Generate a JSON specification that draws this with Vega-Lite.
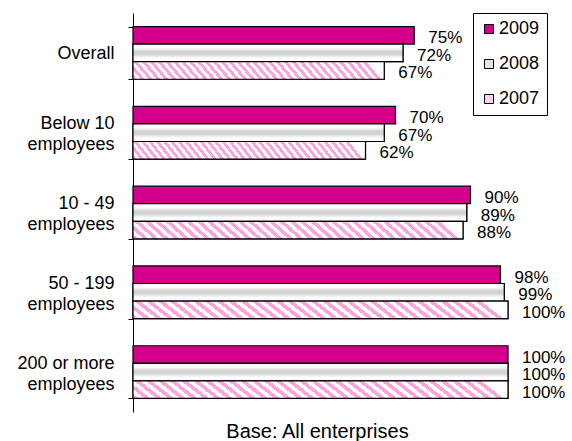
{
  "$schema": "https://vega.github.io/schema/vega-lite/v6.json",
  "width": 375,
  "height": 399,
  "autosize": {"type": "none"},
  "padding": {"left": 133, "top": 13, "right": 64, "bottom": 29},
  "background": "white",
  "config": {"view": {"stroke": null}, "font": "Liberation Sans"},
  "data": {
    "values": [
      {"category": "Overall", "year": "2009", "value": 0.75},
      {"category": "Overall", "year": "2008", "value": 0.72},
      {"category": "Overall", "year": "2007", "value": 0.67},
      {"category": "Below 10 employees", "year": "2009", "value": 0.70},
      {"category": "Below 10 employees", "year": "2008", "value": 0.67},
      {"category": "Below 10 employees", "year": "2007", "value": 0.62},
      {"category": "10 - 49 employees", "year": "2009", "value": 0.90},
      {"category": "10 - 49 employees", "year": "2008", "value": 0.89},
      {"category": "10 - 49 employees", "year": "2007", "value": 0.88},
      {"category": "50 - 199 employees", "year": "2009", "value": 0.98},
      {"category": "50 - 199 employees", "year": "2008", "value": 0.99},
      {"category": "50 - 199 employees", "year": "2007", "value": 1.00},
      {"category": "200 or more employees", "year": "2009", "value": 1.00},
      {"category": "200 or more employees", "year": "2008", "value": 1.00},
      {"category": "200 or more employees", "year": "2007", "value": 1.00}
    ]
  },
  "encoding": {
    "y": {
      "field": "category", "type": "nominal", "sort": null,
      "scale": {"paddingInner": 0.34, "paddingOuter": 0.17},
      "axis": {
        "title": null,
        "domainColor": "black", "domainWidth": 1,
        "tickColor": "black", "tickSize": 5, "tickBand": "extent",
        "labelFontSize": 18, "labelFont": "Liberation Sans", "labelColor": "black",
        "labelLineHeight": 21, "labelPadding": 14, "labelAlign": "right", "labelBaseline": "middle",
        "labelOffset": {"condition": {"test": "datum.label == 'Overall'", "value": 1}, "value": -9},
        "labelExpr": "indexof(datum.label, ' employees') > 0 ? [substring(datum.label, 0, indexof(datum.label, ' employees')), 'employees'] : datum.label"
      }
    },
    "yOffset": {"field": "year", "type": "nominal", "scale": {"domain": ["2009", "2008", "2007"], "paddingInner": 0, "paddingOuter": 0}},
    "x": {
      "field": "value", "type": "quantitative",
      "scale": {"domain": [0, 1], "nice": false},
      "axis": {
        "labels": false, "ticks": false, "domain": false, "grid": false,
        "title": "Base: All enterprises", "titleFontSize": 20, "titleFontWeight": "normal",
        "titleFont": "Liberation Sans", "titleColor": "black",
        "titleX": 184, "titleY": 25, "titleBaseline": "alphabetic", "titleAlign": "center", "titleAnchor": "start"
      }
    }
  },
  "layer": [
    {
      "mark": {"type": "bar", "stroke": "black", "strokeWidth": 1.2, "opacity": 1},
      "encoding": {
        "color": {
          "field": "year", "type": "nominal",
          "scale": {"domain": ["2009", "2008", "2007"], "range": ["#d4008c", "#e4e4e4", "#fcd3ee"]},
          "legend": {
            "orient": "none", "legendX": 340, "legendY": 0, "title": null,
            "strokeColor": "black", "fillColor": "white", "padding": 7, "rowPadding": 17,
            "symbolType": "square", "symbolSize": 81, "symbolStrokeColor": "black", "symbolStrokeWidth": 1, "symbolOpacity": 1,
            "labelFontSize": 18, "labelFont": "Liberation Sans", "labelOffset": 1, "labelColor": "black"
          }
        }
      }
    },
    {
      "transform": [{"filter": "datum.year == '2008'"}],
      "mark": {
        "type": "bar", "stroke": "black", "strokeWidth": 1.2,
        "fill": {
          "gradient": "linear", "x1": 0, "y1": 0, "x2": 0, "y2": 1,
          "stops": [
            {"offset": 0, "color": "#ffffff"},
            {"offset": 0.2, "color": "#ffffff"},
            {"offset": 0.42, "color": "#d4d4d4"},
            {"offset": 0.58, "color": "#d4d4d4"},
            {"offset": 0.8, "color": "#ffffff"},
            {"offset": 1, "color": "#ffffff"}
          ]
        }
      }
    },
    {
      "transform": [{"filter": "datum.year == '2007'"}],
      "mark": {
        "type": "bar", "stroke": "black", "strokeWidth": 1.2,
        "fill": {
          "gradient": "linear", "x1": 0, "y1": 1, "x2": 1, "y2": 0.94,
          "stops": [
            {"offset": 0, "color": "#ffa3dd"}, {"offset": 0.015625, "color": "#ffa3dd"}, {"offset": 0.015625, "color": "#ffffff"}, {"offset": 0.03125, "color": "#ffffff"},
            {"offset": 0.03125, "color": "#ffa3dd"}, {"offset": 0.046875, "color": "#ffa3dd"}, {"offset": 0.046875, "color": "#ffffff"}, {"offset": 0.0625, "color": "#ffffff"},
            {"offset": 0.0625, "color": "#ffa3dd"}, {"offset": 0.078125, "color": "#ffa3dd"}, {"offset": 0.078125, "color": "#ffffff"}, {"offset": 0.09375, "color": "#ffffff"},
            {"offset": 0.09375, "color": "#ffa3dd"}, {"offset": 0.109375, "color": "#ffa3dd"}, {"offset": 0.109375, "color": "#ffffff"}, {"offset": 0.125, "color": "#ffffff"},
            {"offset": 0.125, "color": "#ffa3dd"}, {"offset": 0.140625, "color": "#ffa3dd"}, {"offset": 0.140625, "color": "#ffffff"}, {"offset": 0.15625, "color": "#ffffff"},
            {"offset": 0.15625, "color": "#ffa3dd"}, {"offset": 0.171875, "color": "#ffa3dd"}, {"offset": 0.171875, "color": "#ffffff"}, {"offset": 0.1875, "color": "#ffffff"},
            {"offset": 0.1875, "color": "#ffa3dd"}, {"offset": 0.203125, "color": "#ffa3dd"}, {"offset": 0.203125, "color": "#ffffff"}, {"offset": 0.21875, "color": "#ffffff"},
            {"offset": 0.21875, "color": "#ffa3dd"}, {"offset": 0.234375, "color": "#ffa3dd"}, {"offset": 0.234375, "color": "#ffffff"}, {"offset": 0.25, "color": "#ffffff"},
            {"offset": 0.25, "color": "#ffa3dd"}, {"offset": 0.265625, "color": "#ffa3dd"}, {"offset": 0.265625, "color": "#ffffff"}, {"offset": 0.28125, "color": "#ffffff"},
            {"offset": 0.28125, "color": "#ffa3dd"}, {"offset": 0.296875, "color": "#ffa3dd"}, {"offset": 0.296875, "color": "#ffffff"}, {"offset": 0.3125, "color": "#ffffff"},
            {"offset": 0.3125, "color": "#ffa3dd"}, {"offset": 0.328125, "color": "#ffa3dd"}, {"offset": 0.328125, "color": "#ffffff"}, {"offset": 0.34375, "color": "#ffffff"},
            {"offset": 0.34375, "color": "#ffa3dd"}, {"offset": 0.359375, "color": "#ffa3dd"}, {"offset": 0.359375, "color": "#ffffff"}, {"offset": 0.375, "color": "#ffffff"},
            {"offset": 0.375, "color": "#ffa3dd"}, {"offset": 0.390625, "color": "#ffa3dd"}, {"offset": 0.390625, "color": "#ffffff"}, {"offset": 0.40625, "color": "#ffffff"},
            {"offset": 0.40625, "color": "#ffa3dd"}, {"offset": 0.421875, "color": "#ffa3dd"}, {"offset": 0.421875, "color": "#ffffff"}, {"offset": 0.4375, "color": "#ffffff"},
            {"offset": 0.4375, "color": "#ffa3dd"}, {"offset": 0.453125, "color": "#ffa3dd"}, {"offset": 0.453125, "color": "#ffffff"}, {"offset": 0.46875, "color": "#ffffff"},
            {"offset": 0.46875, "color": "#ffa3dd"}, {"offset": 0.484375, "color": "#ffa3dd"}, {"offset": 0.484375, "color": "#ffffff"}, {"offset": 0.5, "color": "#ffffff"},
            {"offset": 0.5, "color": "#ffa3dd"}, {"offset": 0.515625, "color": "#ffa3dd"}, {"offset": 0.515625, "color": "#ffffff"}, {"offset": 0.53125, "color": "#ffffff"},
            {"offset": 0.53125, "color": "#ffa3dd"}, {"offset": 0.546875, "color": "#ffa3dd"}, {"offset": 0.546875, "color": "#ffffff"}, {"offset": 0.5625, "color": "#ffffff"},
            {"offset": 0.5625, "color": "#ffa3dd"}, {"offset": 0.578125, "color": "#ffa3dd"}, {"offset": 0.578125, "color": "#ffffff"}, {"offset": 0.59375, "color": "#ffffff"},
            {"offset": 0.59375, "color": "#ffa3dd"}, {"offset": 0.609375, "color": "#ffa3dd"}, {"offset": 0.609375, "color": "#ffffff"}, {"offset": 0.625, "color": "#ffffff"},
            {"offset": 0.625, "color": "#ffa3dd"}, {"offset": 0.640625, "color": "#ffa3dd"}, {"offset": 0.640625, "color": "#ffffff"}, {"offset": 0.65625, "color": "#ffffff"},
            {"offset": 0.65625, "color": "#ffa3dd"}, {"offset": 0.671875, "color": "#ffa3dd"}, {"offset": 0.671875, "color": "#ffffff"}, {"offset": 0.6875, "color": "#ffffff"},
            {"offset": 0.6875, "color": "#ffa3dd"}, {"offset": 0.703125, "color": "#ffa3dd"}, {"offset": 0.703125, "color": "#ffffff"}, {"offset": 0.71875, "color": "#ffffff"},
            {"offset": 0.71875, "color": "#ffa3dd"}, {"offset": 0.734375, "color": "#ffa3dd"}, {"offset": 0.734375, "color": "#ffffff"}, {"offset": 0.75, "color": "#ffffff"},
            {"offset": 0.75, "color": "#ffa3dd"}, {"offset": 0.765625, "color": "#ffa3dd"}, {"offset": 0.765625, "color": "#ffffff"}, {"offset": 0.78125, "color": "#ffffff"},
            {"offset": 0.78125, "color": "#ffa3dd"}, {"offset": 0.796875, "color": "#ffa3dd"}, {"offset": 0.796875, "color": "#ffffff"}, {"offset": 0.8125, "color": "#ffffff"},
            {"offset": 0.8125, "color": "#ffa3dd"}, {"offset": 0.828125, "color": "#ffa3dd"}, {"offset": 0.828125, "color": "#ffffff"}, {"offset": 0.84375, "color": "#ffffff"},
            {"offset": 0.84375, "color": "#ffa3dd"}, {"offset": 0.859375, "color": "#ffa3dd"}, {"offset": 0.859375, "color": "#ffffff"}, {"offset": 0.875, "color": "#ffffff"},
            {"offset": 0.875, "color": "#ffa3dd"}, {"offset": 0.890625, "color": "#ffa3dd"}, {"offset": 0.890625, "color": "#ffffff"}, {"offset": 0.90625, "color": "#ffffff"},
            {"offset": 0.90625, "color": "#ffa3dd"}, {"offset": 0.921875, "color": "#ffa3dd"}, {"offset": 0.921875, "color": "#ffffff"}, {"offset": 0.9375, "color": "#ffffff"},
            {"offset": 0.9375, "color": "#ffa3dd"}, {"offset": 0.953125, "color": "#ffa3dd"}, {"offset": 0.953125, "color": "#ffffff"}, {"offset": 0.96875, "color": "#ffffff"},
            {"offset": 0.96875, "color": "#ffa3dd"}, {"offset": 0.984375, "color": "#ffa3dd"}, {"offset": 0.984375, "color": "#ffffff"}, {"offset": 1, "color": "#ffffff"}
          ]
        }
      }
    },
    {
      "mark": {"type": "text", "align": "left", "baseline": "middle", "dx": 14, "dy": 3, "fontSize": 17, "font": "Liberation Sans", "color": "black"},
      "encoding": {
        "text": {"field": "value", "type": "quantitative", "format": ".0%"}
      }
    }
  ]
}
